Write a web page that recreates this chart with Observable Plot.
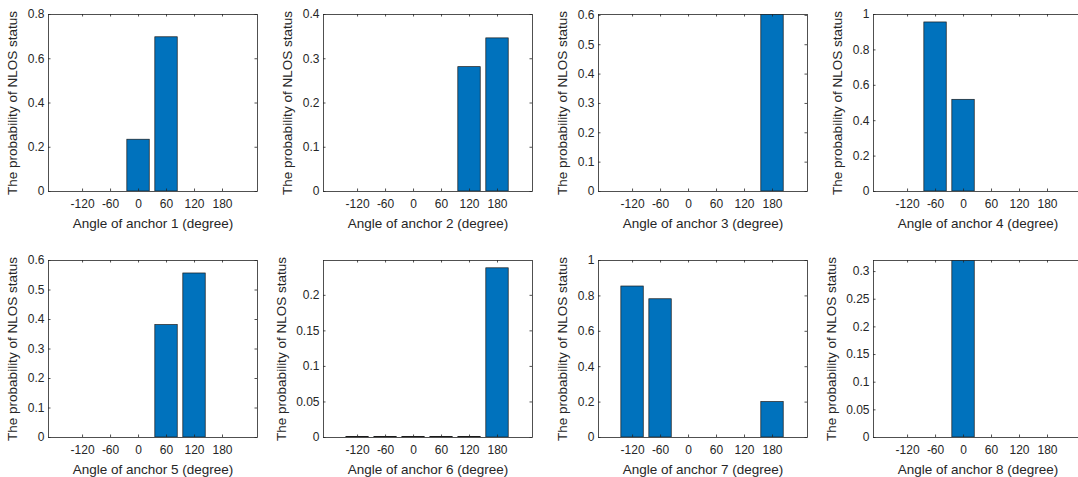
<!DOCTYPE html>
<html>
<head>
<meta charset="utf-8">
<script src="https://cdn.jsdelivr.net/npm/d3@7"></script>
<script src="https://cdn.jsdelivr.net/npm/@observablehq/plot@0.6"></script>
<style>
  html, body { margin: 0; padding: 0; background: #fff; }
  #wrap { position: relative; width: 1078px; height: 477px; overflow: hidden; background: #fff; }
  #wrap > svg { position: absolute; }
</style>
</head>
<body>
<div id="wrap"></div>
<script>
// ---- data ----
const angles = [-120, -60, 0, 60, 120, 180];
const xTickLabels = [-120, -60, 0, 60, 120, 180];

const anchor1 = [0, 0, 0.234, 0.697, 0, 0];
const anchor2 = [0, 0, 0, 0, 0.281, 0.346];
const anchor3 = [0, 0, 0, 0, 0, 0.61];
const anchor4 = [0, 0.955, 0.518, 0, 0, 0];
const anchor5 = [0, 0, 0, 0.381, 0.556, 0];
const anchor6 = [0.0006, 0.0006, 0.0006, 0.0006, 0.0006, 0.238];
const anchor7 = [0.853, 0.781, 0, 0, 0, 0.2];
const anchor8 = [0, 0, 0.33, 0, 0, 0];

const yMax = [0.8, 0.4, 0.603, 1, 0.6, 0.249, 1, 0.32];
const yTicks = [
  [0, 0.2, 0.4, 0.6, 0.8],
  [0, 0.1, 0.2, 0.3, 0.4],
  [0, 0.1, 0.2, 0.3, 0.4, 0.5, 0.6],
  [0, 0.2, 0.4, 0.6, 0.8, 1],
  [0, 0.1, 0.2, 0.3, 0.4, 0.5, 0.6],
  [0, 0.05, 0.1, 0.15, 0.2],
  [0, 0.2, 0.4, 0.6, 0.8, 1],
  [0, 0.05, 0.1, 0.15, 0.2, 0.25, 0.3]
];
const series = [anchor1, anchor2, anchor3, anchor4, anchor5, anchor6, anchor7, anchor8];
const xDomain = [-193, 255];
const barWidth = 48; // 0.8 of the 60-degree spacing

const W = 275, H = 246;
const mL = 48, mR = 18, mT = 14, mB = 55;
const fw = W - mL - mR, fh = H - mT - mB;
const tickLen = 2.5;
const ink = "#262626";
const font = "'Liberation Sans', Arial, Helvetica, sans-serif";

const wrap = document.getElementById("wrap");

series.forEach((vals, i) => {
  const col = i % 4, row = Math.floor(i / 4);
  const data = angles.map((a, j) => ({angle: a, value: vals[j]})).filter(d => d.value > 0);
  const yt = yTicks[i];
  const maxLabelLen = d3.max(yt, t => String(t).length);
  const svg = Plot.plot({
    width: W,
    height: H,
    marginLeft: mL, marginRight: mR, marginTop: mT, marginBottom: mB,
    style: {fontFamily: font, fontSize: "12px", color: ink, background: "transparent", overflow: "visible"},
    x: {domain: xDomain},
    y: {domain: [0, yMax[i]]},
    marks: [
      Plot.rectY(data, {
        x1: d => d.angle - barWidth / 2,
        x2: d => d.angle + barWidth / 2,
        y: "value",
        fill: "#0072BD",
        stroke: "#1a1a1a",
        strokeWidth: 0.7,
        clip: true
      }),
      // inward ticks on all four sides
      Plot.tickX(xTickLabels, {x: d => d, insetTop: fh - tickLen, stroke: ink, strokeWidth: 0.8}),
      Plot.tickX(xTickLabels, {x: d => d, insetBottom: fh - tickLen, stroke: ink, strokeWidth: 0.8}),
      Plot.tickY(yt, {y: d => d, insetRight: fw - tickLen, stroke: ink, strokeWidth: 0.8}),
      Plot.tickY(yt, {y: d => d, insetLeft: fw - tickLen, stroke: ink, strokeWidth: 0.8}),
      Plot.frame({stroke: ink, strokeWidth: 0.8}),
      Plot.axisX(xTickLabels, {
        tickSize: 0, tickPadding: 8, tickFormat: d => String(d),
        fontSize: 12,
        label: `Angle of anchor ${i + 1} (degree)`,
        labelAnchor: "center", labelArrow: "none", labelOffset: 36
      }),
      Plot.axisY(yt, {
        tickSize: 0, tickPadding: 4, tickFormat: d => String(d),
        fontSize: 12,
        label: "The probability of NLOS status",
        labelAnchor: "center", labelArrow: "none",
        labelOffset: maxLabelLen > 3 ? 47 : 41
      })
    ]
  });
  svg.style.left = (col * 275) + "px";
  svg.style.top = (row * 246) + "px";
  wrap.appendChild(svg);
});

// enlarge axis-label text
wrap.querySelectorAll("g[aria-label='x-axis label'], g[aria-label='y-axis label']").forEach(g => {
  g.setAttribute("font-size", "13.5");
});
</script>
</body>
</html>
